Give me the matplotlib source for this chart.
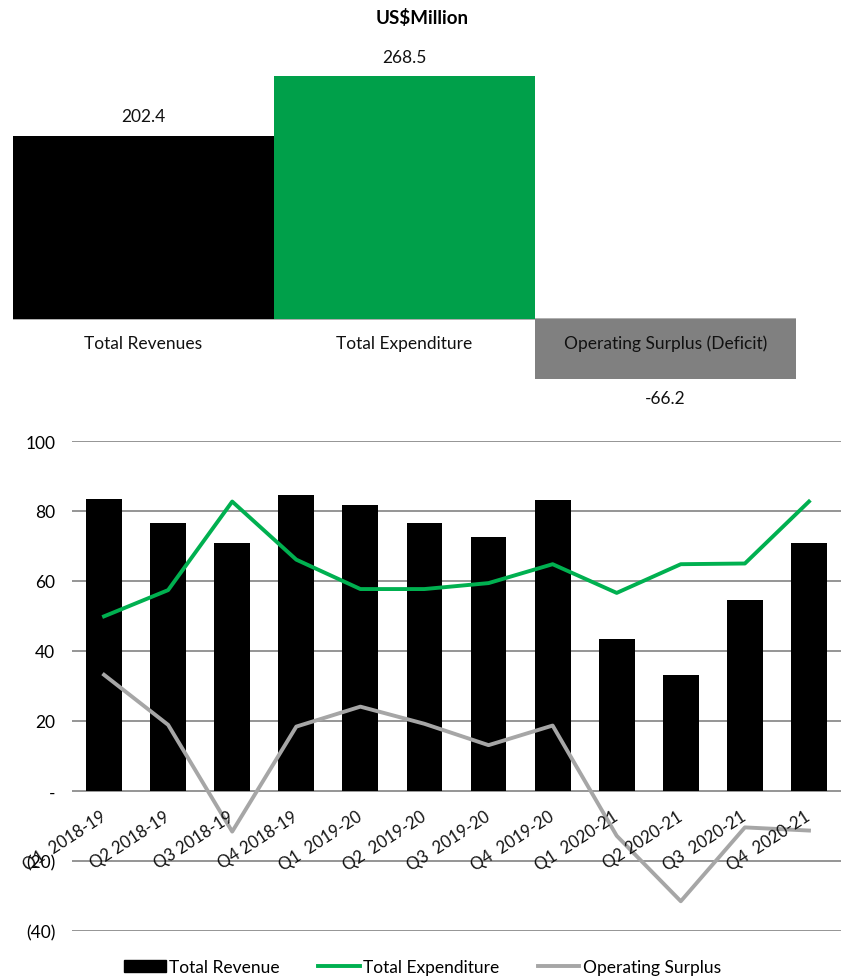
import numpy as np
import matplotlib
matplotlib.use("Agg")
import matplotlib.pyplot as plt
import matplotlib.transforms as mtransforms
from matplotlib.lines import Line2D
from matplotlib.patches import Patch

plt.rcParams['font.family'] = ['Lato', 'DejaVu Sans']

# resumo anual (US$ milhoes)
categorias_resumo = ["Total Revenues", "Total Expenditure", "Operating Surplus (Deficit)"]
valores_resumo = [202.4, 268.5, -66.2]
cores_resumo = ["#000000", "#00A04A", "#808080"]

# dados trimestrais
trimestres = ["Q1  2018-19", "Q2 2018-19", "Q3 2018-19", "Q4 2018-19",
              "Q1  2019-20", "Q2  2019-20", "Q3  2019-20", "Q4  2019-20",
              "Q1  2020-21", "Q2 2020-21", "Q3  2020-21", "Q4  2020-21"]
receita = [83.3, 76.5, 70.9, 84.6, 81.6, 76.7, 72.7, 83.1, 43.4, 33.1, 54.6, 70.9]
despesa = [49.9, 57.4, 82.7, 66.1, 57.7, 57.7, 59.4, 64.8, 56.6, 64.8, 65.0, 82.7]
superavit = [33.2, 18.9, -11.6, 18.4, 24.1, 19.2, 13.1, 18.7, -12.8, -31.5, -10.4, -11.3]

yticks = [-40, -20, 0, 20, 40, 60, 80, 100]
ytick_labels = ["(40)", "(20)", "-", "20", "40", "60", "80", "100"]

fig = plt.figure(figsize=(8.45, 9.79), dpi=100)

# ---- grafico de cima ----
ax1 = fig.add_axes([13 / 845, 1 - 410 / 979, 783 / 845, 370 / 979])
x1 = np.arange(len(categorias_resumo))
ax1.bar(x1, valores_resumo, width=1.0, color=cores_resumo, zorder=2)
ax1.axhline(0, color="#A0A0A0", lw=1.2, zorder=1)
ax1.set_xlim(-0.5, 2.5)
ax1.set_ylim(-99.4, 309.4)
ax1.axis("off")

for i, (cat, v) in enumerate(zip(categorias_resumo, valores_resumo)):
    ax1.annotate(cat, (i, 0), xytext=(0, -17), textcoords="offset points",
                 ha="center", va="center", fontsize=12.5, color="#111111", zorder=3)
    off = 14 if v >= 0 else -14
    ax1.annotate(f"{v:.1f}", (i, v), xytext=(0, off), textcoords="offset points",
                 ha="center", va="center", fontsize=12.5, color="#111111")

fig.text(0.5, 1 - 18 / 979, "US\\$Million", ha="center", va="center",
         fontsize=13.5, fontweight="bold")

# ---- grafico de baixo ----
ax2 = fig.add_axes([72 / 845, 1 - 932 / 979, 769 / 845, 490 / 979])
x2 = np.arange(len(trimestres))
ax2.bar(x2, receita, width=0.56, color="#000000", zorder=2, label="Total Revenue")
ax2.plot(x2, despesa, color="#00B050", lw=2.8, zorder=3, label="Total Expenditure")
ax2.plot(x2, superavit, color="#A6A6A6", lw=2.8, zorder=3, label="Operating Surplus")

ax2.set_xlim(-0.5, len(trimestres) - 0.5)
ax2.set_ylim(-40, 100)
ax2.set_yticks(yticks)
ax2.set_yticklabels(ytick_labels, fontsize=12.5)
ax2.set_xticks([])
ax2.tick_params(axis="y", length=0, pad=12)
ax2.grid(axis="y", color="#8C8C8C", lw=1.3, zorder=0)
ax2.set_axisbelow(True)
for s in ax2.spines.values():
    s.set_visible(False)

# rotulos dos trimestres junto da linha do zero
trans_rot = mtransforms.offset_copy(ax2.transData, fig=fig, x=0, y=-17, units="points")
for i, t in enumerate(trimestres):
    ax2.text(i, 0, t, transform=trans_rot, ha="right", va="center",
             rotation=33, rotation_mode="anchor", fontsize=12,
             color="#111111", zorder=4)

handles = [Patch(color="#000000"),
           Line2D([], [], color="#00B050", lw=2.8),
           Line2D([], [], color="#A6A6A6", lw=2.8)]
fig.legend(handles, ["Total Revenue", "Total Expenditure", "Operating Surplus"],
           loc="center", bbox_to_anchor=(0.5, 1 - 968 / 979), ncol=3, frameon=False,
           fontsize=12.5, handlelength=2.4, handletextpad=0.2, columnspacing=2.2)

fig.savefig("out.png", dpi=100)
